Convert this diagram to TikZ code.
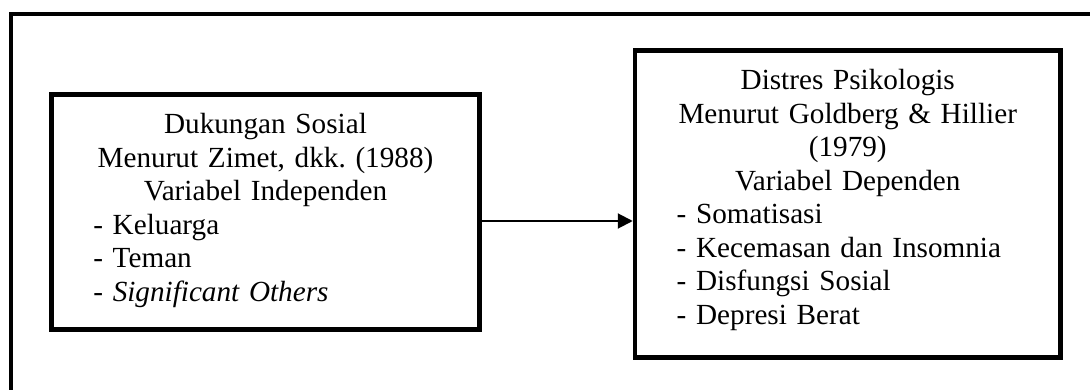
\documentclass[tikz,border=0pt]{standalone}
\usepackage{fontspec}
\setmainfont{Liberation Serif}
\usetikzlibrary{arrows.meta}
\frenchspacing
\tikzset{
  frame/.style={draw=black, line width=4.5pt, line join=miter},
  box/.style={frame, inner sep=0pt},
  txt/.style={inner sep=0pt, anchor=base, font=\fontsize{29.2}{33.5}\selectfont\frenchspacing},
  arr/.style={draw=black, line width=2pt, -{Triangle[length=15pt,width=15pt]}}
}
\begin{document}
\begin{tikzpicture}[x=1pt,y=-1pt]
\useasboundingbox (0,0) rectangle (1090,390);
% outer frame (only top and left edges visible)
\draw[frame] (11,420) |- (1120,14);
% boxes
\node[box, minimum width=428pt, minimum height=235pt] (lb) at (265.5,212) {};
\node[box, minimum width=425.5pt, minimum height=307pt] (rb) at (847.75,204) {};
% texts
\node[txt, text width=428pt] (lt) at (265.5,134) {\centering Dukungan Sosial\\Menurut Zimet, dkk. (1988)\\Variabel Independen\par
\raggedright\hspace*{41.8pt}- Keluarga\\\hspace*{41.8pt}- Teman\\\hspace*{41.8pt}- \textit{Significant Others}\par};
\node[txt, text width=425.5pt] (rt) at (847.75,90) {\centering Distres Psikologis\\Menurut Goldberg \& Hillier\\(1979)\\Variabel Dependen\par
\raggedright\hspace*{41.7pt}- Somatisasi\\\hspace*{41.7pt}- Kecemasan dan Insomnia\\\hspace*{41.7pt}- Disfungsi Sosial\\\hspace*{41.7pt}- Depresi Berat\par};
% connector
\coordinate (ay) at (0,221);
\draw[arr] (lb.east |- ay) -- (rb.west |- ay);
\end{tikzpicture}
\end{document}
